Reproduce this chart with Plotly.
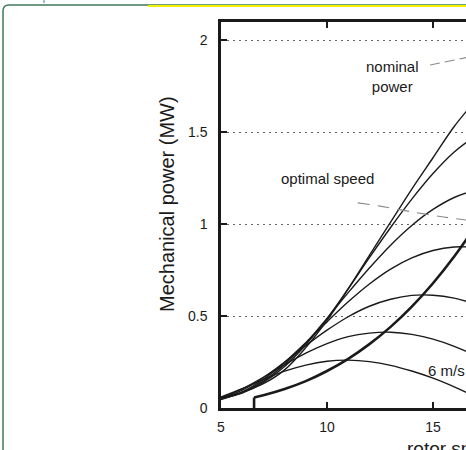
import plotly.graph_objects as go

# ---- data ----
rotor_speed = [5, 6, 7, 8, 9, 10, 11, 12, 13, 14, 15, 16, 17]
p_6 = [0.060, 0.105, 0.155, 0.200, 0.233, 0.254, 0.260, 0.252, 0.232, 0.201, 0.162, 0.115, 0.062]
p_7 = [0.055, 0.104, 0.167, 0.235, 0.298, 0.350, 0.388, 0.407, 0.412, 0.400, 0.374, 0.335, 0.285]
p_8 = [0.050, 0.097, 0.166, 0.249, 0.339, 0.423, 0.496, 0.553, 0.591, 0.612, 0.613, 0.597, 0.565]
p_9 = [0.046, 0.088, 0.156, 0.248, 0.355, 0.468, 0.577, 0.674, 0.755, 0.816, 0.856, 0.875, 0.873]
p_10 = [0.050, 0.085, 0.146, 0.237, 0.353, 0.487, 0.627, 0.761, 0.885, 0.992, 1.079, 1.144, 1.185]
p_11 = [0.051, 0.081, 0.139, 0.226, 0.344, 0.486, 0.648, 0.817, 0.981, 1.135, 1.274, 1.391, 1.480]
p_12 = [0.058, 0.086, 0.132, 0.207, 0.328, 0.476, 0.648, 0.830, 1.010, 1.190, 1.360, 1.530, 1.670]
wind_curves = [p_6, p_7, p_8, p_9, p_10, p_11, p_12]

opt_start = [6.56, 6.56]
opt_start_power = [0.0, 0.057]
opt_speed = [6.56, 7, 8, 9, 10, 11, 12, 13, 14, 15, 16, 17]
opt_power = [0.057, 0.069, 0.103, 0.146, 0.201, 0.267, 0.347, 0.441, 0.551, 0.678, 0.823, 0.987]

opt_leader_x = [11.45, 12.5, 14.0, 15.5, 16.6]
opt_leader_y = [1.115, 1.097, 1.066, 1.038, 1.021]
nom_leader_x = [14.86, 15.7, 16.6]
nom_leader_y = [1.864, 1.885, 1.905]

y_ticks = [0, 0.5, 1, 1.5, 2]
y_tick_text = ["0", "0.5", "1", "1.5", "2"]
x_ticks = [5, 10, 15, 20]
x_tick_text = ["5", "10", "15", "20"]

FONT = "Liberation Sans, Arial, Helvetica, sans-serif"
INK = "#1a1a1a"

fig = go.Figure()
for pw in wind_curves:
    fig.add_trace(go.Scatter(x=rotor_speed, y=pw, mode="lines",
                             line=dict(color=INK, width=1.4, shape="spline"),
                             showlegend=False, hoverinfo="skip"))
fig.add_trace(go.Scatter(x=opt_start, y=opt_start_power, mode="lines",
                         line=dict(color=INK, width=2.6), showlegend=False, hoverinfo="skip"))
fig.add_trace(go.Scatter(x=opt_speed, y=opt_power, mode="lines",
                         line=dict(color=INK, width=2.6, shape="spline"),
                         showlegend=False, hoverinfo="skip"))
fig.add_trace(go.Scatter(x=opt_leader_x, y=opt_leader_y, mode="lines",
                         line=dict(color="#8a8a8a", width=1.1, dash="12px,8px", shape="spline"),
                         showlegend=False, hoverinfo="skip"))
fig.add_trace(go.Scatter(x=nom_leader_x, y=nom_leader_y, mode="lines",
                         line=dict(color="#8a8a8a", width=1.1, dash="10px,5px"),
                         showlegend=False, hoverinfo="skip"))

W, H = 466, 450
L, R, T, B = 221, 0, 22, 42
pw_ = W - L - R
ph_ = H - T - B
x0 = 5
x1 = x0 + pw_ / 21.2
y1 = ph_ / 184.0

def px(xp):
    return (xp - L) / pw_

def py(yp):
    return (H - B - yp) / ph_

fig.update_layout(
    width=W, height=H,
    margin=dict(l=L, r=R, t=T, b=B, pad=0),
    paper_bgcolor="white", plot_bgcolor="white",
    font=dict(family=FONT, color=INK, size=14),
    xaxis=dict(range=[x0, x1], tickvals=x_ticks, ticktext=x_tick_text,
               showgrid=False, zeroline=False, showline=True, linecolor=INK, linewidth=2.5,
               mirror="ticks", ticks="inside", ticklen=6, tickwidth=2, tickcolor=INK,
               tickfont=dict(size=14, family=FONT, color=INK), ticklabelstandoff=4),
    yaxis=dict(range=[0, y1], tickvals=y_ticks, ticktext=y_tick_text,
               showgrid=True, gridcolor="#666666", gridwidth=1.3, griddash="1.5px,4.5px",
               zeroline=False, showline=True, linecolor=INK, linewidth=2.5,
               ticks="inside", ticklen=6, tickwidth=2, tickcolor=INK,
               tickfont=dict(size=14, family=FONT, color=INK), ticklabelstandoff=8),
)

ann_font = dict(family=FONT, size=15, color=INK)
fig.add_annotation(x=px(392), y=py(76), xref="paper", yref="paper", text="nominal<br>power",
                   showarrow=False, font=ann_font, xanchor="center", yanchor="middle", align="center")
fig.add_annotation(x=px(327), y=py(178), xref="paper", yref="paper", text="optimal speed",
                   showarrow=False, font=ann_font, xanchor="center", yanchor="middle")
fig.add_annotation(x=px(446), y=py(370), xref="paper", yref="paper", text="6 m/s",
                   showarrow=False, font=ann_font, xanchor="center", yanchor="middle")
fig.add_annotation(x=px(167), y=py(204), xref="paper", yref="paper", text="Mechanical power (MW)",
                   showarrow=False, textangle=-90, font=dict(family=FONT, size=20, color=INK),
                   xanchor="center", yanchor="middle")
fig.add_annotation(x=px(405), y=py(436), xref="paper", yref="paper", text="rotor speed (rpm)",
                   showarrow=False, font=dict(family=FONT, size=19, color=INK),
                   xanchor="left", yanchor="top")

# page frame decorations seen in the reference crop
fig.add_shape(type="path", xref="paper", yref="paper",
              path=f"M {px(3)},{py(470)} L {px(3)},{py(11)} Q {px(3)},{py(5)} {px(9)},{py(5)} L {px(480)},{py(5)}",
              line=dict(color="#3f7a5c", width=1.5), layer="above")
fig.add_shape(type="line", xref="paper", yref="paper", x0=px(148), x1=px(480), y0=py(6), y1=py(6),
              line=dict(color="#f2f000", width=2), layer="above")
fig.add_shape(type="line", xref="paper", yref="paper", x0=px(44), x1=px(44), y0=py(0), y1=py(3),
              line=dict(color="#5b8fd0", width=1.2), layer="above")

fig.write_html("out.html", config={"displayModeBar": False},
               post_script="document.body.style.margin='0';document.body.style.overflow='hidden';")
